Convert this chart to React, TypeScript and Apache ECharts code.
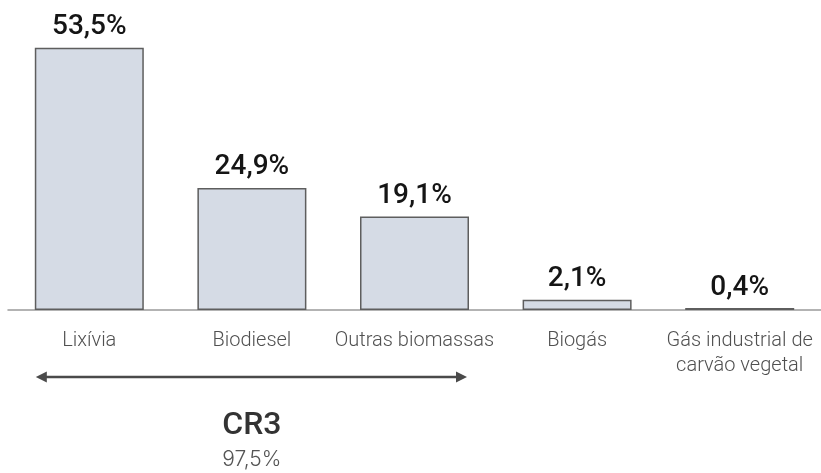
import React, { useEffect, useRef } from "react";
import * as echarts from "echarts";

const categories = ["Lixívia", "Biodiesel", "Outras biomassas", "Biogás", "Gás industrial de\ncarvão vegetal"];
const shares = [53.5, 24.9, 19.1, 2.1, 0.4];
const cr3Label = "CR3";
const cr3Value = 97.5;

const fmt = (v: number) => v.toFixed(1).replace(".", ",") + "%";

export default function App() {
  const ref = useRef<HTMLDivElement>(null);
  useEffect(() => {
    const chart = echarts.init(ref.current!, null, { renderer: "svg" });
    const option: any = {
      animation: false,
      textStyle: { fontFamily: "Roboto" },
      grid: { left: 8, top: 16, width: 818, height: 294 },
      xAxis: {
        type: "category",
        data: categories,
        axisLine: { lineStyle: { color: "#9a9a9a", width: 1.5 } },
        axisTick: { show: false },
        axisLabel: {
          color: "#505050",
          fontFamily: "Roboto",
          fontSize: 20,
          fontWeight: 300,
          lineHeight: 25,
          margin: 16,
          interval: 0,
        },
      },
      yAxis: { type: "value", min: 0, max: 60, show: false },
      series: [
        {
          type: "bar",
          data: shares,
          barWidth: 109,
          itemStyle: { color: "#d5dbe5", borderColor: "#5e5e5e", borderWidth: 1.5 },
          label: {
            show: true,
            position: "top",
            distance: 9,
            fontFamily: "Roboto",
            fontSize: 28,
            fontWeight: 500,
            color: "#151515",
            formatter: (p: any) => fmt(p.value),
          },
        },
      ],
    };
    chart.setOption(option);

    const y0 = chart.convertToPixel({ gridIndex: 0 } as any, [0, 0]) as number[];
    const c0 = chart.convertToPixel({ xAxisIndex: 0 } as any, 0) as unknown as number;
    const c1 = chart.convertToPixel({ xAxisIndex: 0 } as any, 1) as unknown as number;
    const c2 = chart.convertToPixel({ xAxisIndex: 0 } as any, 2) as unknown as number;
    const half = 109 / 2;
    const xl = c0 - half + 1;
    const xr = c2 + half - 2;
    const ay = y0[1] + 67;
    const col = "#4a4a4a";
    chart.setOption({
      graphic: [
        { type: "line", shape: { x1: xl + 8, y1: ay, x2: xr - 8, y2: ay }, style: { stroke: col, lineWidth: 2.5 } },
        { type: "polygon", shape: { points: [[xl, ay], [xl + 11, ay - 5.5], [xl + 11, ay + 5.5]] }, style: { fill: col } },
        { type: "polygon", shape: { points: [[xr, ay], [xr - 11, ay - 5.5], [xr - 11, ay + 5.5]] }, style: { fill: col } },
        {
          type: "text",
          x: c1,
          y: ay + 46,
          style: { text: cr3Label, fontFamily: "Roboto", fontSize: 32, fontWeight: 500, fill: "#333", align: "center", verticalAlign: "middle" },
        },
        {
          type: "text",
          x: c1,
          y: ay + 81,
          style: { text: fmt(cr3Value), fontFamily: "Inter", fontSize: 21, fontWeight: 300, fill: "#555", align: "center", verticalAlign: "middle" },
        },
      ],
    });
    return () => chart.dispose();
  }, []);
  return <div ref={ref} style={{ position: "fixed", left: 0, top: 0, width: 821, height: 473 }} />;
}
